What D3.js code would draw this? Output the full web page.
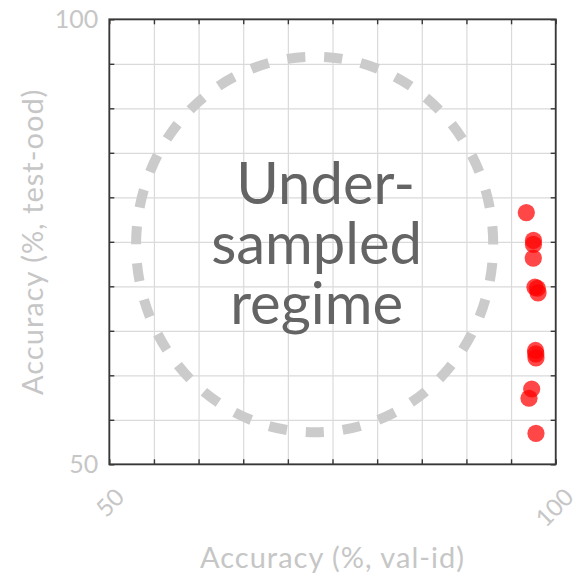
<!DOCTYPE html>
<html>
<head>
<meta charset="utf-8">
<script src="https://cdn.jsdelivr.net/npm/d3@7/dist/d3.min.js"></script>
<style>
  html, body { margin: 0; padding: 0; background: #fff; }
  svg { display: block; font-family: Lato, "Open Sans", sans-serif; }
</style>
</head>
<body>
<svg id="chart" width="576" height="577"></svg>
<script>
// Accuracy of each run: in-distribution validation vs. OOD test
const valId   = [96.71, 97.51, 97.51, 97.49, 97.68, 97.94, 98.02, 97.74, 97.77, 97.79, 97.31, 97.01, 97.79];
const testOod = [78.28, 75.16, 74.71, 73.16, 69.90, 69.78, 69.26, 62.79, 62.40, 61.95, 58.46, 57.42, 53.48];

// Axis setup
const axisDomain = [50, 100];
const gridTicks  = [50, 55, 60, 65, 70, 75, 80, 85, 90, 95, 100];
const tickLabels = [50, 100];

// Highlighted region (ellipse in data units) and its caption
const regionCenter = [73.0, 74.7];
const regionRadii  = [20.0, 21.1];
const regionLines  = ["Under-", "sampled", "regime"];

const svg = d3.select("#chart");
const pLeft = 109.3, pRight = 555.7, pTop = 19.3, pBottom = 464.3;

const x = d3.scaleLinear().domain(axisDomain).range([pLeft, pRight]);
const y = d3.scaleLinear().domain(axisDomain).range([pBottom, pTop]);

const tickColor = "#c6c6c6";
const gridColor = "#dadada";
const frameColor = "#383838";

// Grid lines
svg.append("g")
  .attr("transform", `translate(0,${pBottom})`)
  .call(d3.axisBottom(x).tickValues(gridTicks).tickSize(-(pBottom - pTop)).tickFormat(""))
  .call(g => g.select(".domain").remove())
  .call(g => g.selectAll("line").attr("stroke", gridColor).attr("stroke-width", 1.2));
svg.append("g")
  .attr("transform", `translate(${pLeft},0)`)
  .call(d3.axisLeft(y).tickValues(gridTicks).tickSize(-(pRight - pLeft)).tickFormat(""))
  .call(g => g.select(".domain").remove())
  .call(g => g.selectAll("line").attr("stroke", gridColor).attr("stroke-width", 1.2));

// Dashed ellipse marking the regime
const cx = x(regionCenter[0]), cy = y(regionCenter[1]);
const rx = x(regionCenter[0] + regionRadii[0]) - cx;
const ry = cy - y(regionCenter[1] + regionRadii[1]);
const hh = Math.pow((rx - ry) / (rx + ry), 2);
const perim = Math.PI * (rx + ry) * (1 + 3 * hh / (10 + Math.sqrt(4 - 3 * hh)));
const period = perim / 31;
svg.append("path")
  .attr("d", `M${cx + rx},${cy} A${rx},${ry} 0 0 0 ${cx - rx},${cy} A${rx},${ry} 0 0 0 ${cx + rx},${cy}`)
  .attr("fill", "none")
  .attr("stroke", "#cbcbcb")
  .attr("stroke-width", 10)
  .attr("stroke-dasharray", `${period * 0.49} ${period * 0.51}`);

// Caption inside the ellipse, one text block with a line per tspan
const lineX = [cx + 11, cx + 2, cx + 2];
const lineY = [203.5, 263.5, 323.5];
svg.append("text")
  .attr("text-anchor", "middle")
  .attr("font-size", 58)
  .attr("fill", "#646464")
  .selectAll("tspan")
  .data(regionLines)
  .join("tspan")
  .attr("x", (d, i) => lineX[i])
  .attr("y", (d, i) => lineY[i])
  .text(d => d);

// Points
svg.append("g")
  .selectAll("circle")
  .data(valId.map((v, i) => [v, testOod[i]]))
  .join("circle")
  .attr("cx", d => x(d[0]))
  .attr("cy", d => y(d[1]))
  .attr("r", 8.6)
  .attr("fill", "#ff0000")
  .attr("fill-opacity", 0.72);

// Inward ticks on all four sides
const fmt = d => (tickLabels.includes(d) ? d : "");
const styleTicks = g => {
  g.select(".domain").remove();
  g.selectAll("line").attr("stroke", frameColor).attr("stroke-width", 1.4);
};
svg.append("g").attr("transform", `translate(0,${pBottom})`)
  .call(d3.axisBottom(x).tickValues(gridTicks).tickSize(-5).tickFormat("")).call(styleTicks);
svg.append("g").attr("transform", `translate(0,${pTop})`)
  .call(d3.axisTop(x).tickValues(gridTicks).tickSize(-5).tickFormat("")).call(styleTicks);
svg.append("g").attr("transform", `translate(${pRight},0)`)
  .call(d3.axisRight(y).tickValues(gridTicks).tickSize(-5).tickFormat("")).call(styleTicks);
const yAxis = svg.append("g").attr("transform", `translate(${pLeft},0)`)
  .call(d3.axisLeft(y).tickValues(gridTicks).tickSize(-5).tickPadding(11).tickFormat(fmt))
  .call(styleTicks);
yAxis.selectAll("text")
  .attr("font-family", "Lato, sans-serif")
  .attr("font-size", 25)
  .attr("fill", tickColor);

// Frame
svg.append("rect")
  .attr("x", pLeft).attr("y", pTop)
  .attr("width", pRight - pLeft).attr("height", pBottom - pTop)
  .attr("fill", "none")
  .attr("stroke", frameColor)
  .attr("stroke-width", 1.8);

// Rotated x tick labels
const xLab = svg.append("g")
  .selectAll("text")
  .data(tickLabels)
  .join("text")
  .attr("text-anchor", "middle")
  .attr("dominant-baseline", "central")
  .attr("font-size", 24)
  .attr("fill", tickColor)
  .text(d => d);
xLab.each(function(d) {
  const w = this.getComputedTextLength();
  const h = 17;
  const half = (w + h) * Math.SQRT1_2 / 2;
  d3.select(this).attr("transform", `translate(${x(d) - (d === 100 ? 2 : 0)},${486 + half}) rotate(-45)`);
});

// Axis titles
svg.append("text")
  .attr("x", (pLeft + pRight) / 2)
  .attr("y", 568.3)
  .attr("text-anchor", "middle")
  .attr("font-size", 29)
  .attr("letter-spacing", 1.0)
  .attr("fill", tickColor)
  .text("Accuracy (%, val-id)");
svg.append("text")
  .attr("transform", `translate(43.3,${(pTop + pBottom) / 2}) rotate(-90)`)
  .attr("text-anchor", "middle")
  .attr("font-size", 29)
  .attr("letter-spacing", 1.0)
  .attr("fill", tickColor)
  .text("Accuracy (%, test-ood)");
</script>
</body>
</html>
